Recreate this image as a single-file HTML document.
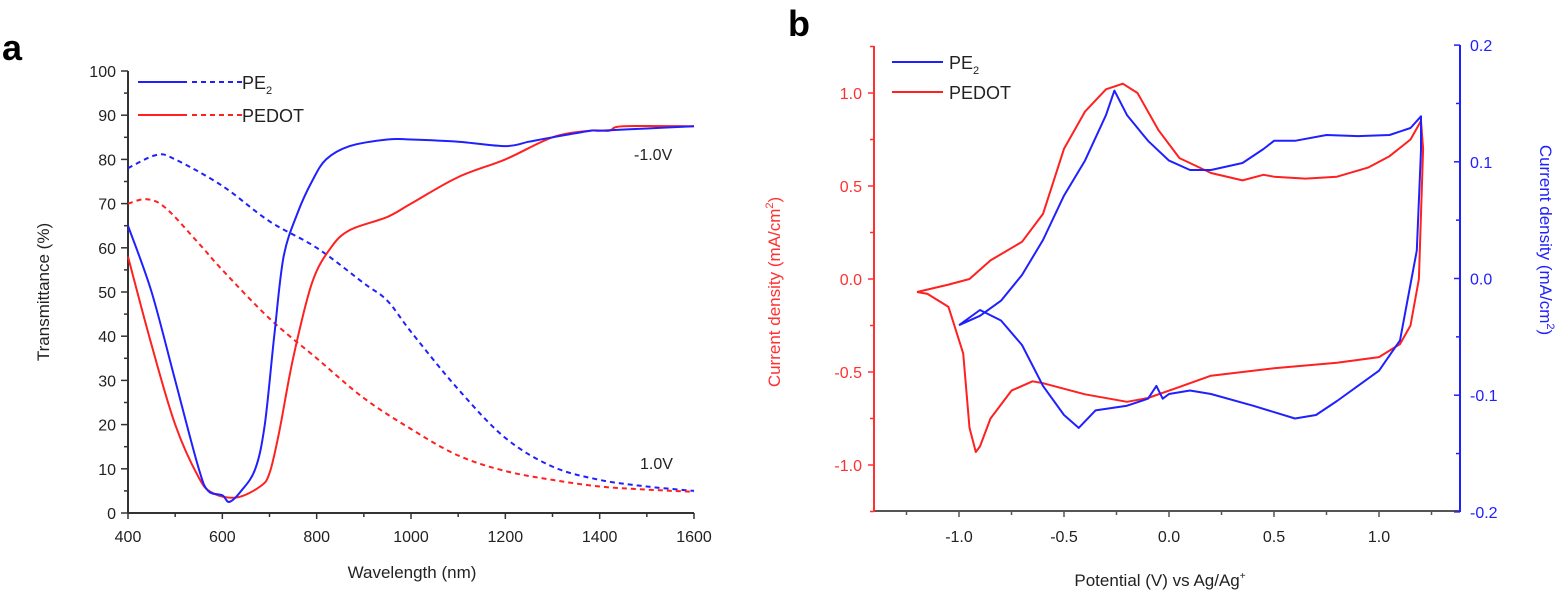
<!DOCTYPE html>
<html><head><meta charset="utf-8"><style>
body{margin:0;background:#fff;}
svg{display:block;font-family:"Liberation Sans",Arial,sans-serif;}
</style></head><body>
<svg id="c" width="1562" height="593"></svg>
<script>
// Panel a data
const aWlPe2Red=[400,450,500,550,570,600,615,640,670,690,710,730,760,790,820,870,950,1000,1100,1200,1250,1300,1380,1400,1500,1600];
const aPe2Red=[65,50,30,10,5,4,2.5,5,10,20,40,58,68,75,80,83,84.5,84.5,84,83,84,85,86.5,86.5,87,87.5];
const aWlPedRed=[400,450,500,550,580,630,680,700,720,750,790,830,870,950,1000,1100,1200,1300,1380,1420,1450,1600];
const aPedRed=[58,38,20,8,4.5,3.5,6,9,18,35,52,60,64,67,70,76,80,85,86.5,86.5,87.5,87.5];
const aWlPe2Ox=[400,460,500,600,700,800,900,950,1000,1100,1200,1300,1400,1500,1600];
const aPe2Ox=[78,81,80,74,66,60,52,48,41,28,17,10.5,7.5,6,5];
const aWlPedOx=[400,440,480,550,600,700,800,900,1000,1100,1200,1300,1400,1500,1600];
const aPedOx=[70,71,69,61,55,44,35,26,19,13,9.5,7.5,6,5.3,4.8];
const aXTicks=[400,600,800,1000,1200,1400,1600];
const aYTicks=[0,10,20,30,40,50,60,70,80,90,100];
// Panel b data
const bPedV=[-1.2,-1.05,-0.95,-0.85,-0.7,-0.6,-0.5,-0.4,-0.3,-0.22,-0.15,-0.05,0.05,0.2,0.35,0.45,0.5,0.65,0.8,0.95,1.05,1.15,1.2,1.21,1.19,1.15,1.1,1.0,0.8,0.5,0.2,0.05,-0.1,-0.2,-0.4,-0.6,-0.65,-0.75,-0.85,-0.9,-0.92,-0.95,-0.98,-1.05,-1.15,-1.2];
const bPedI=[-0.07,-0.03,0.0,0.1,0.2,0.35,0.7,0.9,1.02,1.05,1.0,0.8,0.65,0.57,0.53,0.56,0.55,0.54,0.55,0.6,0.66,0.75,0.85,0.7,0.0,-0.25,-0.35,-0.42,-0.45,-0.48,-0.52,-0.58,-0.64,-0.66,-0.62,-0.56,-0.55,-0.6,-0.75,-0.9,-0.93,-0.8,-0.4,-0.15,-0.08,-0.07];
const bPe2V=[-1.0,-0.9,-0.8,-0.7,-0.6,-0.5,-0.4,-0.3,-0.26,-0.2,-0.1,0.0,0.1,0.2,0.35,0.45,0.5,0.6,0.75,0.9,1.05,1.15,1.2,1.2,1.18,1.1,1.0,0.8,0.7,0.6,0.4,0.2,0.1,0.0,-0.03,-0.06,-0.1,-0.2,-0.35,-0.43,-0.5,-0.6,-0.7,-0.8,-0.9,-1.0];
const bPe2I=[-0.040,-0.032,-0.019,0.003,0.033,0.071,0.101,0.140,0.161,0.140,0.118,0.101,0.093,0.093,0.099,0.111,0.118,0.118,0.123,0.122,0.123,0.129,0.139,0.110,0.024,-0.053,-0.079,-0.105,-0.117,-0.120,-0.109,-0.099,-0.096,-0.099,-0.103,-0.092,-0.103,-0.109,-0.113,-0.128,-0.117,-0.092,-0.057,-0.036,-0.027,-0.040];
const bXTicks=[-1.0,-0.5,0.0,0.5,1.0];
const bLTicks=[-1.0,-0.5,0.0,0.5,1.0];
const bRTicks=[-0.2,-0.1,0.0,0.1,0.2];

const NS="http://www.w3.org/2000/svg";
const svg=document.getElementById('c');
function mk(t,a,p){const e=document.createElementNS(NS,t);for(const k in a)e.setAttribute(k,a[k]);(p||svg).appendChild(e);return e;}
function txt(s,x,y,a,p){const e=mk('text',Object.assign({x:x,y:y},a),p);e.textContent=s;return e;}

// Panel a scales
const ax=w=>128+(w-400)*(694-128)/1200;
const ay=t=>513-t*(513-71)/100;
const ga=mk('g',{});


let l=mk('line',{x1:128,y1:71,x2:128,y2:513,stroke:'#333','stroke-width':2},ga);

l=mk('line',{x1:128,y1:513,x2:694,y2:513,stroke:'#333','stroke-width':2},ga);

for(let w=400;w<=1600;w+=100){mk('line',{x1:ax(w),y1:513,x2:ax(w),y2:w%200==0?519:517,stroke:'#333','stroke-width':1.5},ga);}
aXTicks.forEach(w=>{const t=txt(String(w),ax(w),542,{'font-size':16,'text-anchor':'middle',fill:'#222'},ga);});
for(let v=0;v<=100;v+=5){mk('line',{x1:128,y1:ay(v),x2:v%10==0?121:124,y2:ay(v),stroke:'#333','stroke-width':1.5},ga);}
aYTicks.forEach(v=>{const t=txt(String(v),116,ay(v)+6,{'font-size':16,'text-anchor':'end',fill:'#222'},ga);});
let t=txt('Wavelength (nm)',412,578,{'font-size':17,'text-anchor':'middle',fill:'#222'},ga);

t=txt('Transmittance (%)',0,0,{'font-size':17,'text-anchor':'middle',fill:'#222',transform:'translate(49,292) rotate(-90)'},ga);

function pathD(xs,ys,fx,fy,smooth){const P=xs.map((x,i)=>[fx(x),fy(ys[i])]);let d='M'+P[0][0].toFixed(1)+','+P[0][1].toFixed(1);
 for(let i=0;i<P.length-1;i++){if(!smooth){d+='L'+P[i+1][0].toFixed(1)+','+P[i+1][1].toFixed(1);continue;}
  const p0=P[Math.max(0,i-1)],p1=P[i],p2=P[i+1],p3=P[Math.min(P.length-1,i+2)];const k=1/6;
  const c1=[p1[0]+(p2[0]-p0[0])*k,p1[1]+(p2[1]-p0[1])*k],c2=[p2[0]-(p3[0]-p1[0])*k,p2[1]-(p3[1]-p1[1])*k];
  d+='C'+c1.map(v=>v.toFixed(1)).join(',')+' '+c2.map(v=>v.toFixed(1)).join(',')+' '+p2[0].toFixed(1)+','+p2[1].toFixed(1);}
 return d;}
function line(xs,ys,fx,fy,col,dash,name,p,smooth){const e=mk('path',{d:pathD(xs,ys,fx,fy,smooth),fill:'none',stroke:col,'stroke-width':2,'stroke-dasharray':dash||'none','stroke-linejoin':'round'},p);return e;}
line(aWlPe2Ox,aPe2Ox,ax,ay,'#2020ff','5,4','pe2-oxidized-line',ga,true);
line(aWlPedOx,aPedOx,ax,ay,'#ff2020','5,4','pedot-oxidized-line',ga,true);
line(aWlPedRed,aPedRed,ax,ay,'#ff2020',null,'pedot-reduced-line',ga,true);
line(aWlPe2Red,aPe2Red,ax,ay,'#2020ff',null,'pe2-reduced-line',ga,true);
// legend a
let lg=mk('g',{},ga);
mk('line',{x1:138,y1:82,x2:187,y2:82,stroke:'#2020ff','stroke-width':2},lg);
mk('line',{x1:192,y1:82,x2:242,y2:82,stroke:'#2020ff','stroke-width':2,'stroke-dasharray':'5,4'},lg);
mk('line',{x1:138,y1:115,x2:187,y2:115,stroke:'#ff2020','stroke-width':2},lg);
mk('line',{x1:192,y1:115,x2:242,y2:115,stroke:'#ff2020','stroke-width':2,'stroke-dasharray':'5,4'},lg);
t=txt('PE',242,89,{'font-size':18,fill:'#222'},lg);const s1=mk('tspan',{'font-size':11,dy:5},t);s1.textContent='2';
txt('PEDOT',242,122,{'font-size':18,fill:'#222'},lg);
t=txt('-1.0V',634,160,{'font-size':16,fill:'#222'},ga);
t=txt('1.0V',640,469,{'font-size':16,fill:'#222'},ga);
t=txt('a',2,60,{'font-size':36,'font-weight':'bold',fill:'#000'});

// Panel b scales
const bx=v=>1169+v*210;
const by=v=>279-v*186;
const byr=r=>278.5-r*1167;
const gb=mk('g',{});


l=mk('line',{x1:874,y1:511,x2:1460,y2:511,stroke:'#555','stroke-width':2},gb);

l=mk('line',{x1:874,y1:46,x2:874,y2:512,stroke:'#ff3030','stroke-width':2},gb);

l=mk('line',{x1:1460,y1:45,x2:1460,y2:512,stroke:'#2020ff','stroke-width':2},gb);

for(let v=-1.25;v<=1.26;v+=0.25){mk('line',{x1:bx(v),y1:511,x2:bx(v),y2:Math.abs(v*2-Math.round(v*2))<0.01?517:515,stroke:'#555','stroke-width':1.5},gb);}
bXTicks.forEach(v=>{const t=txt(v.toFixed(1),bx(v),542,{'font-size':16,'text-anchor':'middle',fill:'#222'},gb);});
for(let v=-1.25;v<=1.26;v+=0.25){mk('line',{x1:874,y1:by(v),x2:Math.abs(v*2-Math.round(v*2))<0.01?868:870,y2:by(v),stroke:'#ff3030','stroke-width':1.5},gb);}
bLTicks.forEach(v=>{const t=txt(v.toFixed(1),862,by(v)+6,{'font-size':16,'text-anchor':'end',fill:'#ff3030'},gb);});
for(let r=-0.2;r<=0.201;r+=0.05){mk('line',{x1:1460,y1:byr(r),x2:Math.abs(r*10-Math.round(r*10))<0.01?1454:1456,y2:byr(r),stroke:'#2020ff','stroke-width':1.5},gb);}
bRTicks.forEach(r=>{const t=txt(r.toFixed(1),1470,byr(r)+6,{'font-size':16,fill:'#2020ff'},gb);});
t=txt('Potential (V) vs Ag/Ag',1160,586,{'font-size':17,'text-anchor':'middle',fill:'#222'},gb);
let sp=mk('tspan',{'font-size':10,dy:-7},t);sp.textContent='+';

t=txt('Current density (mA/cm',0,0,{'font-size':17,'text-anchor':'middle',fill:'#ff3030',transform:'translate(780,292) rotate(-90)'},gb);
sp=mk('tspan',{'font-size':11,dy:-7},t);sp.textContent='2';sp=mk('tspan',{dy:7},t);sp.textContent=')';

t=txt('Current density (mA/cm',0,0,{'font-size':17,'text-anchor':'middle',fill:'#2020ff',transform:'translate(1540,240) rotate(90)'},gb);
sp=mk('tspan',{'font-size':11,dy:-7},t);sp.textContent='2';sp=mk('tspan',{dy:7},t);sp.textContent=')';

line(bPedV,bPedI,bx,by,'#ff2020',null,'pedot-cv-line',gb,false);
line(bPe2V,bPe2I,bx,byr,'#2020ff',null,'pe2-cv-line',gb,false);
lg=mk('g',{},gb);
mk('line',{x1:892,y1:62,x2:943,y2:62,stroke:'#2020ff','stroke-width':2},lg);
mk('line',{x1:892,y1:92,x2:943,y2:92,stroke:'#ff2020','stroke-width':2},lg);
t=txt('PE',949,69,{'font-size':18,fill:'#222'},lg);sp=mk('tspan',{'font-size':11,dy:5},t);sp.textContent='2';
txt('PEDOT',949,99,{'font-size':18,fill:'#222'},lg);
t=txt('b',788,36,{'font-size':36,'font-weight':'bold',fill:'#000'});
</script>
</body></html>
